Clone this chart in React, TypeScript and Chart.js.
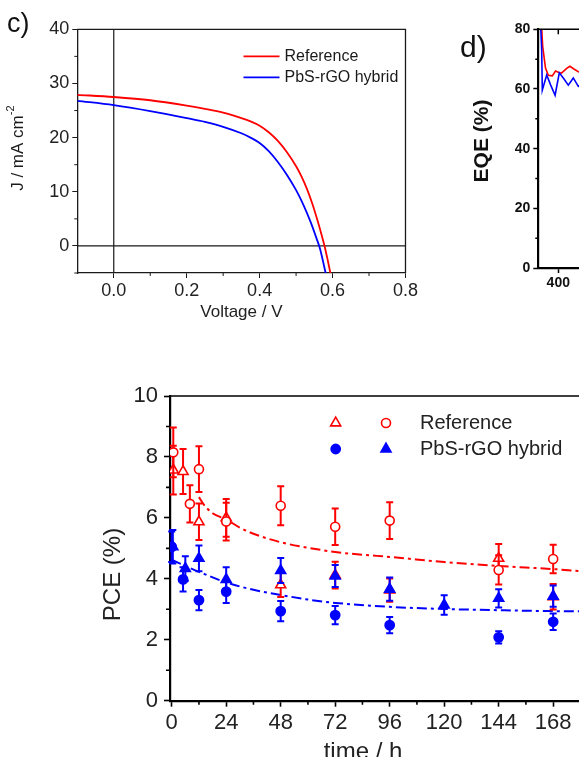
import React, { useEffect, useRef } from "react";
import { Chart, registerables } from "chart.js";

Chart.register(...registerables);

const FONT = "'Liberation Sans', Arial, Helvetica, sans-serif";
const RED = "#ff0000";
const BLUE = "#0000ff";
const INK = "#1a1a1a";

const seriesNames = ["Reference", "PbS-rGO hybrid"];

// ---------- (c) J–V curves ----------
const jvRefVoltage = [-0.1, 0, 0.1, 0.2, 0.25, 0.3, 0.35, 0.375, 0.4, 0.425, 0.45, 0.475, 0.5, 0.515, 0.53, 0.545, 0.56, 0.57, 0.578, 0.586, 0.594];
const jvRefCurrent = [27.9, 27.5, 26.9, 25.9, 25.3, 24.6, 23.6, 23.0, 22.2, 21.0, 19.4, 17.3, 14.7, 12.8, 10.5, 7.7, 4.4, 2.0, 0, -2.4, -5];
const jvHybVoltage = [-0.1, 0, 0.1, 0.2, 0.25, 0.3, 0.35, 0.375, 0.4, 0.425, 0.45, 0.475, 0.5, 0.52, 0.54, 0.556, 0.566, 0.574, 0.581];
const jvHybCurrent = [26.8, 26.0, 24.9, 23.6, 22.9, 22.0, 20.8, 20.0, 19.0, 17.5, 15.5, 13.1, 10.3, 7.6, 4.4, 1.4, -0.6, -2.9, -5];
const jvXTicks = [0, 0.2, 0.4, 0.6, 0.8];
const jvXMinor = [0.1, 0.3, 0.5, 0.7];
const jvYTicks = [0, 10, 20, 30, 40];
const jvYMinor = [-5, 5, 15, 25, 35];

// ---------- (d) EQE spectra (only the left edge is visible) ----------
const eqeRefWavelength = [357, 361, 368, 375, 385, 393, 400, 408, 421, 429, 440, 450, 460];
const eqeRefValue = [84, 74.2, 67, 64.6, 64.4, 66, 65.6, 65.3, 66.9, 67.6, 66.6, 65.8, 65.5];
const eqeHybWavelength = [355, 358.5, 360, 371, 381, 392, 402.5, 412.5, 425, 437.5, 450, 460];
const eqeHybValue = [84, 73, 59.6, 64.7, 61.3, 57.9, 65.4, 63.7, 61.3, 63.7, 60.9, 62];
const eqeXTicks = [400, 600, 800, 1000];
const eqeYTicks = [0, 20, 40, 60, 80];
const eqeYMinor = [10, 30, 50, 70];

// ---------- PCE vs time ----------
const refCircTime = [0.7, 8, 12, 24, 48, 72, 96, 144, 168];
const refCircPce = [8.15, 6.46, 7.6, 5.88, 6.4, 5.71, 5.91, 4.29, 4.65];
const refCircErr = [0.82, 0.61, 0.75, 0.62, 0.64, 0.6, 0.6, 0.48, 0.47];
const refTriTime = [0.7, 5, 12, 24, 48, 72, 96, 144, 168];
const refTriPce = [7.57, 7.52, 5.87, 6.0, 3.8, 4.12, 3.63, 4.67, 3.41];
const refTriErr = [0.8, 0.74, 0.6, 0.62, 0.4, 0.44, 0.38, 0.47, 0.42];
const hybCircTime = [0, 5, 12, 24, 48, 72, 96, 144, 168];
const hybCircPce = [5.05, 3.98, 3.3, 3.58, 2.94, 2.81, 2.48, 2.08, 2.59];
const hybCircErr = [0.5, 0.4, 0.33, 0.37, 0.33, 0.3, 0.27, 0.2, 0.27];
const hybTriTime = [0.5, 6, 12, 24, 48, 72, 96, 120, 144, 168];
const hybTriPce = [5.05, 4.34, 4.67, 3.98, 4.27, 4.09, 3.66, 3.14, 3.36, 3.43];
const hybTriErr = [0.55, 0.4, 0.42, 0.4, 0.41, 0.36, 0.38, 0.32, 0.3, 0.35];
const refFitTime = [12, 14, 18, 24, 30, 36, 48, 60, 72, 84, 96, 120, 144, 168, 186];
const refFitPce = [6.68, 6.45, 6.15, 5.95, 5.68, 5.48, 5.2, 5.02, 4.88, 4.79, 4.72, 4.55, 4.42, 4.32, 4.22];
const hybFitTime = [0, 6, 12, 24, 36, 48, 60, 72, 96, 120, 144, 168, 186];
const hybFitPce = [4.63, 4.42, 4.23, 3.88, 3.64, 3.47, 3.32, 3.21, 3.08, 3.01, 2.97, 2.94, 2.93];
const pceXTicks = [0, 24, 48, 72, 96, 120, 144, 168];
const pceXMinor = [12, 36, 60, 84, 108, 132, 156, 180];
const pceYTicks = [0, 2, 4, 6, 8, 10];
const pceYMinor = [1, 3, 5, 7, 9];

const pts = (xs: number[], ys: number[]) => xs.map((x, i) => ({ x, y: ys[i] }));
const setTicks = (vals: number[]) => (s: any) => {
  s.ticks = vals.map((v) => ({ value: v }));
};

function markerPath(ctx: CanvasRenderingContext2D, style: string, x: number, y: number, r: number) {
  ctx.beginPath();
  if (style === "triangle") {
    let rad = 0;
    ctx.moveTo(x + Math.sin(rad) * r, y - Math.cos(rad) * r);
    rad += (2 * Math.PI) / 3;
    ctx.lineTo(x + Math.sin(rad) * r, y - Math.cos(rad) * r);
    rad += (2 * Math.PI) / 3;
    ctx.lineTo(x + Math.sin(rad) * r, y - Math.cos(rad) * r);
    ctx.closePath();
  } else {
    ctx.arc(x, y, r, 0, Math.PI * 2);
  }
}

function rotatedText(ctx: CanvasRenderingContext2D, parts: { t: string; font: string; dy: number }[], cx: number, cy: number) {
  ctx.save();
  ctx.translate(cx, cy);
  ctx.rotate(-Math.PI / 2);
  ctx.textBaseline = "middle";
  ctx.textAlign = "left";
  let total = 0;
  const widths = parts.map((p) => {
    ctx.font = p.font;
    const w = ctx.measureText(p.t).width;
    total += w;
    return w;
  });
  let x = -total / 2;
  parts.forEach((p, i) => {
    ctx.font = p.font;
    ctx.fillText(p.t, x, p.dy);
    x += widths[i];
  });
  ctx.restore();
}

const baseOptions = {
  responsive: false,
  animation: false as const,
  events: [] as any[],
  plugins: { legend: { display: false }, tooltip: { enabled: false } },
};

// ---------------- Panel c ----------------
function makeJV() {
  const decor = {
    id: "jvDecor",
    beforeDatasetsDraw(chart: any) {
      const { ctx, chartArea: a, scales } = chart;
      const x0 = scales.x.getPixelForValue(0);
      const y0 = scales.y.getPixelForValue(0);
      ctx.save();
      ctx.strokeStyle = INK;
      ctx.lineWidth = 1.2;
      ctx.beginPath();
      ctx.moveTo(x0, a.top);
      ctx.lineTo(x0, a.bottom);
      ctx.moveTo(a.left, y0);
      ctx.lineTo(a.right, y0);
      ctx.stroke();
      ctx.restore();
    },
    afterDraw(chart: any) {
      const { ctx, chartArea: a, scales } = chart;
      ctx.save();
      ctx.strokeStyle = INK;
      ctx.lineWidth = 1.3;
      ctx.beginPath();
      ctx.moveTo(a.left, a.top);
      ctx.lineTo(a.right, a.top);
      ctx.lineTo(a.right, a.bottom);
      ctx.stroke();
      ctx.lineWidth = 1;
      ctx.beginPath();
      jvXMinor.forEach((v) => {
        const px = scales.x.getPixelForValue(v);
        ctx.moveTo(px, a.bottom);
        ctx.lineTo(px, a.bottom + 3);
      });
      jvYMinor.forEach((v) => {
        const py = scales.y.getPixelForValue(v);
        ctx.moveTo(a.left, py);
        ctx.lineTo(a.left - 3, py);
      });
      ctx.stroke();
      // legend
      const lx = a.right - 162;
      const rows = [
        { c: RED, y: a.top + 27 },
        { c: BLUE, y: a.top + 48 },
      ];
      ctx.font = `16px ${FONT}`;
      ctx.textBaseline = "middle";
      ctx.textAlign = "left";
      rows.forEach((r, i) => {
        ctx.strokeStyle = r.c;
        ctx.lineWidth = 1.8;
        ctx.beginPath();
        ctx.moveTo(lx, r.y);
        ctx.lineTo(lx + 36, r.y);
        ctx.stroke();
        ctx.fillStyle = INK;
        ctx.fillText(seriesNames[i], lx + 41, r.y);
      });
      // y title with superscript
      ctx.fillStyle = INK;
      rotatedText(
        ctx,
        [
          { t: "J / mA cm", font: `17px ${FONT}`, dy: 0 },
          { t: "-2", font: `11px ${FONT}`, dy: -7 },
        ],
        18,
        (a.top + a.bottom) / 2 - 3
      );
      // panel label
      ctx.font = `27px ${FONT}`;
      ctx.textBaseline = "alphabetic";
      ctx.fillStyle = "#111";
      ctx.fillText("c)", 7, 32);
      ctx.restore();
    },
  };
  return {
    type: "scatter",
    data: {
      datasets: [
        {
          data: pts(jvRefVoltage, jvRefCurrent),
          borderColor: RED,
          borderWidth: 1.8,
          showLine: true,
          pointRadius: 0,
          cubicInterpolationMode: "monotone",
        },
        {
          data: pts(jvHybVoltage, jvHybCurrent),
          borderColor: BLUE,
          borderWidth: 1.8,
          showLine: true,
          pointRadius: 0,
          cubicInterpolationMode: "monotone",
        },
      ],
    },
    options: {
      ...baseOptions,
      layout: { padding: { top: 29.3, right: 13, left: 0, bottom: 0 } },
      scales: {
        x: {
          type: "linear",
          min: -0.1,
          max: 0.8,
          afterBuildTicks: setTicks(jvXTicks),
          afterFit: (s: any) => {
            s.height = 57;
          },
          grid: { drawOnChartArea: false, drawTicks: true, tickLength: 5, tickWidth: 1, tickColor: INK },
          border: { display: true, color: INK, width: 1.3 },
          ticks: {
            font: { family: FONT, size: 18 },
            color: "#222",
            padding: 2,
            maxRotation: 0,
            autoSkip: false,
            callback: (v: any) => Number(v).toFixed(1),
          },
          title: {
            display: true,
            text: "Voltage / V",
            font: { family: FONT, size: 17 },
            color: "#222",
            padding: { top: 0, bottom: 7 },
          },
        },
        y: {
          type: "linear",
          min: -5,
          max: 40,
          afterBuildTicks: setTicks(jvYTicks),
          afterFit: (s: any) => {
            s.width = 77.3;
          },
          grid: { drawOnChartArea: false, drawTicks: true, tickLength: 5, tickWidth: 1, tickColor: INK },
          border: { display: true, color: INK, width: 1.3 },
          ticks: {
            font: { family: FONT, size: 18 },
            color: "#222",
            padding: 3,
            autoSkip: false,
            callback: (v: any) => String(v),
          },
        },
      },
    },
    plugins: [decor],
  };
}

// ---------------- Panel d ----------------
function makeEQE() {
  const decor = {
    id: "eqeDecor",
    afterDraw(chart: any) {
      const { ctx, chartArea: a, scales } = chart;
      ctx.save();
      ctx.strokeStyle = "#000";
      ctx.lineWidth = 1.5;
      ctx.beginPath();
      ctx.moveTo(a.left, a.top);
      ctx.lineTo(a.right, a.top);
      ctx.lineTo(a.right, a.bottom);
      eqeXTicks.forEach((v) => {
        const px = scales.x.getPixelForValue(v);
        ctx.moveTo(px, a.top);
        ctx.lineTo(px, a.top + 5);
      });
      eqeYMinor.forEach((v) => {
        const py = scales.y.getPixelForValue(v);
        ctx.moveTo(a.left, py);
        ctx.lineTo(a.left - 3, py);
      });
      ctx.stroke();
      ctx.fillStyle = "#111";
      ctx.font = `30px ${FONT}`;
      ctx.textBaseline = "alphabetic";
      ctx.fillText("d)", 20, 57);
      rotatedText(ctx, [{ t: "EQE (%)", font: `bold 21px ${FONT}`, dy: 0 }], 42.5, 141);
      ctx.restore();
    },
  };
  return {
    type: "scatter",
    data: {
      datasets: [
        {
          data: pts(eqeHybWavelength, eqeHybValue),
          borderColor: BLUE,
          borderWidth: 1.6,
          showLine: true,
          pointRadius: 0,
        },
        {
          data: pts(eqeRefWavelength, eqeRefValue),
          borderColor: RED,
          borderWidth: 1.6,
          showLine: true,
          pointRadius: 0,
        },
      ],
    },
    options: {
      ...baseOptions,
      layout: { padding: { top: 29.3, right: 21.7, left: 0, bottom: 0 } },
      scales: {
        x: {
          type: "linear",
          min: 350,
          max: 1100,
          afterBuildTicks: setTicks(eqeXTicks),
          afterFit: (s: any) => {
            s.height = 32;
          },
          grid: { drawOnChartArea: false, drawTicks: true, tickLength: 5, tickWidth: 1.5, tickColor: "#000" },
          border: { display: true, color: "#000", width: 2.2 },
          ticks: {
            font: { family: FONT, size: 14, weight: "bold" },
            color: "#111",
            padding: 2,
            maxRotation: 0,
            autoSkip: false,
            callback: (v: any) => String(v),
          },
        },
        y: {
          type: "linear",
          min: 0,
          max: 80,
          afterBuildTicks: setTicks(eqeYTicks),
          afterFit: (s: any) => {
            s.width = 98.3;
          },
          grid: { drawOnChartArea: false, drawTicks: true, tickLength: 5, tickWidth: 1.5, tickColor: "#000" },
          border: { display: true, color: "#000", width: 2.2 },
          ticks: {
            font: { family: FONT, size: 14, weight: "bold" },
            color: "#111",
            padding: 3,
            autoSkip: false,
            callback: (v: any) => String(v),
          },
        },
      },
    },
    plugins: [decor],
  };
}

// ---------------- PCE panel ----------------
function makePCE() {
  const errorBars = {
    id: "errorBars",
    beforeDatasetDraw(chart: any, args: any) {
      const ds: any = chart.data.datasets[args.index];
      if (!ds.errors) return;
      const { ctx } = chart;
      const yS = chart.scales.y;
      ctx.save();
      ctx.strokeStyle = ds.borderColor;
      ctx.lineWidth = 2;
      ds.data.forEach((p: any, i: number) => {
        const el = args.meta.data[i];
        if (!el) return;
        const x = el.x;
        const yt = yS.getPixelForValue(p.y + ds.errors[i]);
        const yb = yS.getPixelForValue(p.y - ds.errors[i]);
        ctx.beginPath();
        ctx.moveTo(x, yt);
        ctx.lineTo(x, yb);
        ctx.moveTo(x - 3.5, yt);
        ctx.lineTo(x + 3.5, yt);
        ctx.moveTo(x - 3.5, yb);
        ctx.lineTo(x + 3.5, yb);
        ctx.stroke();
      });
      ctx.restore();
    },
  };
  const decor = {
    id: "pceDecor",
    afterDraw(chart: any) {
      const { ctx, chartArea: a, scales } = chart;
      ctx.save();
      ctx.strokeStyle = "#000";
      ctx.lineWidth = 1.6;
      ctx.beginPath();
      ctx.moveTo(a.left, a.top);
      ctx.lineTo(a.right, a.top);
      ctx.lineTo(a.right, a.bottom);
      ctx.stroke();
      ctx.lineWidth = 1.6;
      ctx.beginPath();
      pceXMinor.forEach((v) => {
        const px = scales.x.getPixelForValue(v);
        ctx.moveTo(px, a.bottom);
        ctx.lineTo(px, a.bottom + 4);
      });
      pceYMinor.forEach((v) => {
        const py = scales.y.getPixelForValue(v);
        ctx.moveTo(a.left, py);
        ctx.lineTo(a.left - 4, py);
      });
      ctx.stroke();
      // legend
      const ds = chart.data.datasets;
      const rows = [
        { y: 53, a: ds[3], b: ds[2], label: seriesNames[0] },
        { y: 79, a: ds[1], b: ds[0], label: seriesNames[1] },
      ];
      rows.forEach((r) => {
        [r.a, r.b].forEach((d: any, k: number) => {
          const mx = k === 0 ? 335.7 : 386;
          markerPath(ctx, d.pointStyle, mx, r.y, d.pointRadius);
          ctx.fillStyle = d.backgroundColor;
          ctx.fill();
          ctx.lineWidth = d.borderWidth;
          ctx.strokeStyle = d.borderColor;
          ctx.stroke();
        });
        ctx.fillStyle = "#222";
        ctx.font = `20px ${FONT}`;
        ctx.textBaseline = "middle";
        ctx.textAlign = "left";
        ctx.fillText(r.label, 420, r.y);
      });
      // axis titles
      ctx.fillStyle = "#222";
      rotatedText(ctx, [{ t: "PCE (%)", font: `24px ${FONT}`, dy: 0 }], 113, 204.5);
      ctx.font = `24px ${FONT}`;
      ctx.textAlign = "center";
      ctx.textBaseline = "middle";
      ctx.fillText("time / h", 363, 382);
      ctx.restore();
    },
  };
  const marker = (color: string, style: string, open: boolean, r: number) => ({
    showLine: false,
    pointStyle: style,
    pointRadius: r,
    borderColor: color,
    backgroundColor: open ? "#ffffff" : color,
    borderWidth: 1.6,
  });
  const fit = (color: string) => ({
    showLine: true,
    pointRadius: 0,
    borderColor: color,
    borderWidth: 2,
    borderDash: [10, 4, 3, 4],
    cubicInterpolationMode: "monotone",
  });
  return {
    type: "scatter",
    data: {
      datasets: [
        { data: pts(hybTriTime, hybTriPce), errors: hybTriErr, order: 0, ...marker(BLUE, "triangle", false, 5.8) },
        { data: pts(hybCircTime, hybCircPce), errors: hybCircErr, order: 1, ...marker(BLUE, "circle", false, 4.6) },
        { data: pts(refCircTime, refCircPce), errors: refCircErr, order: 2, ...marker(RED, "circle", true, 4.5) },
        { data: pts(refTriTime, refTriPce), errors: refTriErr, order: 3, ...marker(RED, "triangle", true, 5.8) },
        { data: pts(refFitTime, refFitPce), order: 4, ...fit(RED) },
        { data: pts(hybFitTime, hybFitPce), order: 5, ...fit(BLUE) },
      ],
    },
    options: {
      ...baseOptions,
      layout: { padding: { top: 26, right: 8, left: 0, bottom: 0 } },
      scales: {
        x: {
          type: "linear",
          min: -0.75,
          max: 185.1,
          afterBuildTicks: setTicks(pceXTicks),
          afterFit: (s: any) => {
            s.height = 69.3;
          },
          grid: { drawOnChartArea: false, drawTicks: true, tickLength: 6, tickWidth: 1.6, tickColor: "#000" },
          border: { display: true, color: "#000", width: 2.2 },
          ticks: {
            font: { family: FONT, size: 22 },
            color: "#222",
            padding: 3,
            maxRotation: 0,
            autoSkip: false,
            callback: (v: any) => String(v),
          },
        },
        y: {
          type: "linear",
          min: 0,
          max: 10,
          afterBuildTicks: setTicks(pceYTicks),
          afterFit: (s: any) => {
            s.width = 170;
          },
          grid: { drawOnChartArea: false, drawTicks: true, tickLength: 6, tickWidth: 1.6, tickColor: "#000" },
          border: { display: true, color: "#000", width: 2.2 },
          ticks: {
            font: { family: FONT, size: 22 },
            color: "#222",
            padding: 6,
            autoSkip: false,
            callback: (v: any) => String(v),
          },
        },
      },
    },
    plugins: [errorBars, decor],
  };
}

function ChartBox(props: { left: number; top: number; width: number; height: number; make: () => any }) {
  const ref = useRef<HTMLCanvasElement>(null);
  useEffect(() => {
    if (!ref.current) return;
    const chart = new Chart(ref.current, props.make());
    return () => chart.destroy();
  }, []);
  return (
    <canvas
      ref={ref}
      width={props.width}
      height={props.height}
      style={{ position: "absolute", left: props.left, top: props.top, width: props.width, height: props.height, display: "block" }}
    />
  );
}

export default function App() {
  return (
    <div
      style={{
        position: "fixed",
        left: 0,
        top: 0,
        width: 579,
        height: 757,
        overflow: "hidden",
        background: "#ffffff",
      }}
    >
      <ChartBox left={0} top={0} width={420} height={330} make={makeJV} />
      <ChartBox left={440} top={0} width={420} height={300} make={makeEQE} />
      <ChartBox left={0} top={370} width={600} height={400} make={makePCE} />
    </div>
  );
}
